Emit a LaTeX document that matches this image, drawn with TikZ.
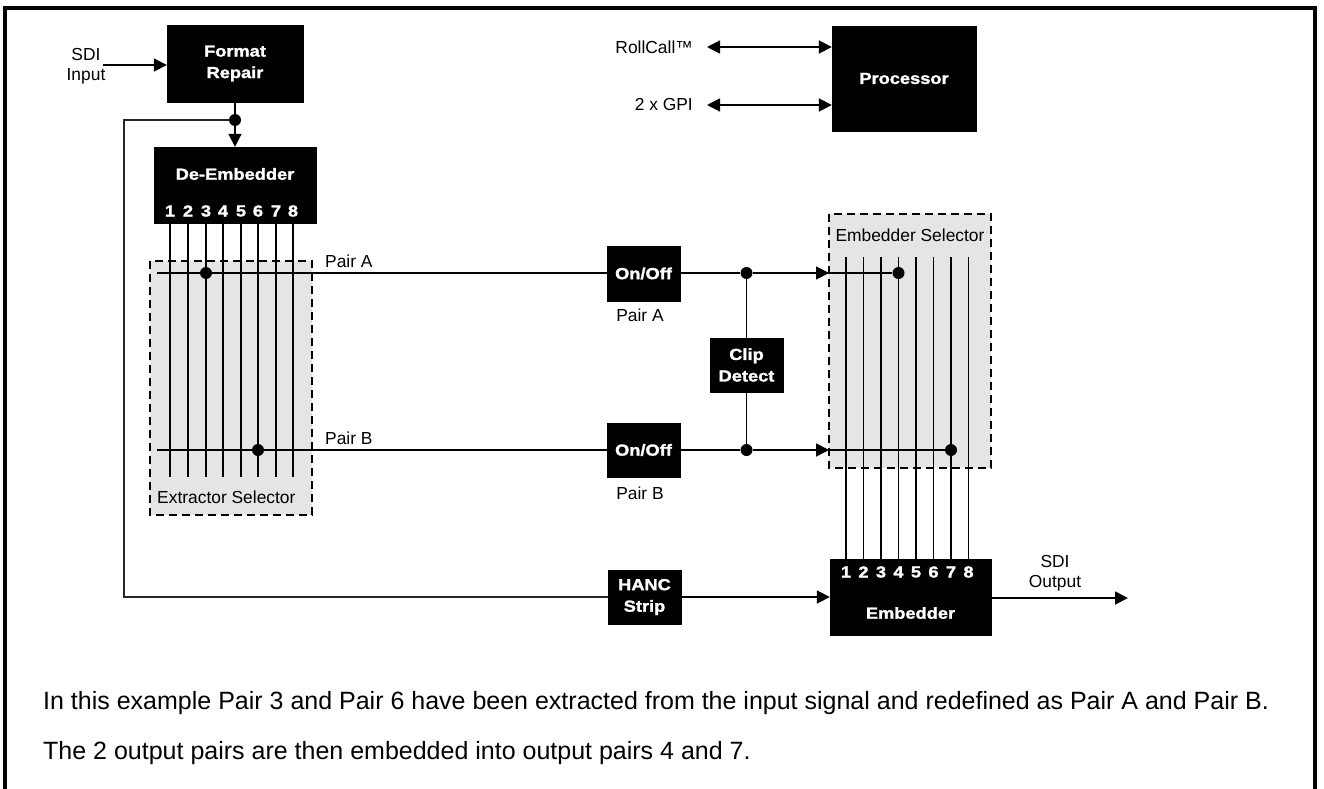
\documentclass[tikz,border=0pt]{standalone}
\usepackage{fontspec}
\setmainfont{Liberation Sans}
\newfontfamily\blk{Liberation Sans Bold}[FakeStretch=1.14,FakeBold=1.6]
\usetikzlibrary{arrows.meta,calc}
\begin{document}
\begin{tikzpicture}[x=1pt,y=-1pt,
  sig/.style={line width=1.8pt, draw=black},
  fb/.style={line width=1.5pt, draw=black!85},
  arr/.style={sig, -{Triangle[length=13pt,width=13pt]}},
  darr/.style={sig, {Triangle[length=13pt,width=13pt]}-{Triangle[length=13pt,width=13pt]}},
  blackbox/.style={fill=black, draw=black, text=white, align=center, inner sep=0pt,
     font=\blk\fontsize{16}{21.5}\selectfont},
  bl/.style={text=white, inner sep=0pt, font=\blk\fontsize{16}{20}\selectfont},
  lbl/.style={inner sep=0pt, font=\fontsize{17.4}{19.5}\selectfont, align=center},
  para/.style={inner sep=0pt, anchor=base west, font=\fontsize{25}{30}\selectfont},
  selbox/.style={fill=black!10, draw=black, line width=1.6pt, dash pattern=on 8pt off 5pt},
  dot/.style={circle, fill=black, inner sep=0pt, minimum size=12pt}]
\useasboundingbox (0,0) rectangle (1324,789);
% frame (open at the bottom)
\draw[line width=4.5pt] (5,789) -- (5,8) -- (1315,8) -- (1315,789);

% selector areas
\draw[selbox] (150,261) rectangle (312,515);
\node[lbl, anchor=west] (exsel) at (157,497) {Extractor Selector};
\draw[selbox] (829,214) rectangle (991,468);
\node[lbl] (emsel) at (910,235) {Embedder Selector};

% main blocks
\node[blackbox, minimum width=136pt, minimum height=77pt] (fr) at (235,63.5) {Format\\Repair};
\node[blackbox, minimum width=162pt, minimum height=76pt] (de) at (235,185) {};
\node[bl] (detxt) at (235,174) {De-Embedder};
\node[blackbox, minimum width=144pt, minimum height=105pt] (proc) at (904,78.5) {Processor};
\node[blackbox, minimum width=73pt, minimum height=55pt] (ona) at (643.5,273.5) {On/Off};
\node[blackbox, minimum width=73pt, minimum height=54pt] (onb) at (643.5,450) {On/Off};
\node[blackbox, minimum width=73pt, minimum height=54pt] (clip) at (746.5,365) {Clip\\Detect};
\node[blackbox, minimum width=73pt, minimum height=54pt] (hanc) at (644.5,597) {HANC\\Strip};
\node[blackbox, minimum width=161pt, minimum height=76pt] (emb) at (910.5,597) {};
\node[bl] (embtxt) at (910.5,613) {Embedder};

% De-Embedder outputs
\foreach \i/\x in {1/170,2/188,3/206,4/223,5/241,6/258,7/276,8/293} {
  \node[bl] (dd\i) at (\x,211) {\i};
  \coordinate (de\i) at (\x,477);
  \draw[sig] (dd\i |- de.south) -- (de\i);
}
% Embedder inputs
\foreach \i/\x in {1/846,2/863.5,3/881,4/898.5,5/916,6/933.5,7/951,8/968.5} {
  \node[bl] (ed\i) at (\x,572) {\i};
  \coordinate (es\i) at (\x,257);
  \draw[sig] (es\i) -- (ed\i |- emb.north);
}

% input / feedback
\node[lbl] (sdiin) at (86,66) {SDI\\Input};
\coordinate (inA) at (103,65);
\draw[arr] (inA) -- (fr.west |- inA);
\node[dot] (fork) at (235,120) {};
\draw[sig] (fr.south) -- (fork);
\draw[arr] (fork) -- (de.north);
\coordinate (fbc1) at (124,120);
\coordinate (fbc2) at (124,597);
\draw[fb] (fork) -- (fbc1) -- (fbc2) -- (hanc.west);
\draw[arr] (hanc.east) -- (emb.west);

% Pair A / Pair B
\coordinate (pa0) at (157,273);
\coordinate (pb0) at (157,450);
\draw[sig] (pa0) -- (ona.west |- pa0);
\draw[sig] (pb0) -- (onb.west |- pb0);
\node[dot] (xa) at (206,273) {};
\node[dot] (xb) at (258,450) {};
\node[lbl, anchor=west] (plA) at (325,261) {Pair A};
\node[lbl, anchor=west] (plB) at (325,438) {Pair B};
\node[lbl] (plA2) at (640,315) {Pair A};
\node[lbl] (plB2) at (640,493) {Pair B};

\node[dot] (ca) at (746.5,273) {};
\node[dot] (cb) at (746.5,450) {};
\coordinate (ina) at (829,273);
\coordinate (inb) at (829,450);
\draw[sig] (ona.east |- ca) -- (ca);
\draw[arr] (ca) -- (ina);
\draw[sig] (onb.east |- cb) -- (cb);
\draw[arr] (cb) -- (inb);
\draw[sig] (ca) -- (clip.north);
\draw[sig] (clip.south) -- (cb);
\node[dot] (ya) at (898.5,273) {};
\node[dot] (yb) at (951,450) {};
\draw[sig] (ina) -- (ya);
\draw[sig] (inb) -- (yb);

% output
\coordinate (outE) at (1128,598);
\draw[arr] (emb.east |- outE) -- (outE);
\node[lbl] (sdiout) at (1055,573) {SDI\\Output};

% processor interfaces
\node[lbl, anchor=east] (rc) at (693,47) {RollCall™};
\node[lbl, anchor=east] (gpi) at (693,105) {2 x GPI};
\coordinate (rcA) at (707,47);
\coordinate (gpiA) at (707,105);
\draw[darr] (rcA) -- (proc.west |- rcA);
\draw[darr] (gpiA) -- (proc.west |- gpiA);

% explanatory text
\node[para] (t1) at (43,709) {In this example Pair 3 and Pair 6 have been extracted from the input signal and redefined as Pair A and Pair B.};
\node[para] (t2) at (43,759) {The 2 output pairs are then embedded into output pairs 4 and 7.};
\end{tikzpicture}
\end{document}
